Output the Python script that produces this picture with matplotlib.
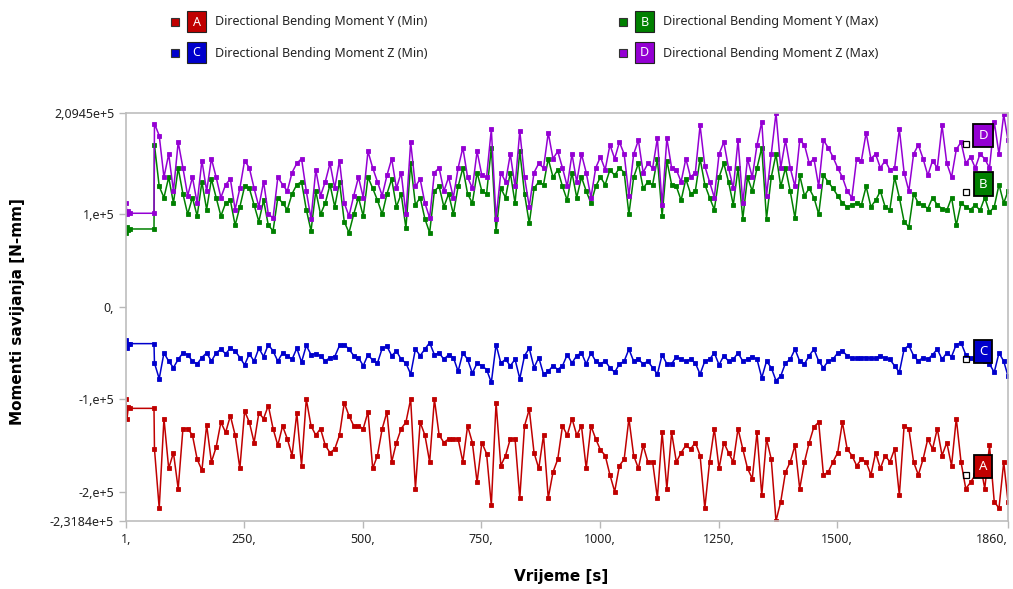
import numpy as np
import matplotlib
matplotlib.use("Agg")
import matplotlib.pyplot as plt
from matplotlib.patches import Rectangle

plt.rcParams["font.family"] = ["Noto Sans", "DejaVu Sans"]

# time axis [s]: flat start-up part, then sampled response every 10 s
t_flat = [1, 3, 6, 10, 60]
t_resp = list(np.arange(61, 1852, 10)) + [1860]
time_s = np.array(t_flat + t_resp, dtype=float)

# values in 1e3 N-mm
flat_A = [-100, -122, -108, -110, -110]
flat_B = [80, 86, 83, 84, 84]
flat_C = [-36, -45, -40, -40, -40]
flat_D = [112, 100, 103, 101, 101]

resp_A = [
    -154, -218, -121, -175, -158, -197, -132, -132, -139, -165,
    -177, -128, -168, -152, -125, -136, -118, -139, -175, -113,
    -125, -147, -115, -121, -107, -132, -150, -129, -143, -161,
    -115, -172, -100, -129, -139, -132, -150, -158, -154, -139,
    -104, -118, -129, -129, -132, -114, -175, -161, -132, -114,
    -168, -147, -132, -125, -100, -197, -125, -139, -168, -100,
    -139, -147, -143, -143, -143, -168, -129, -147, -190, -147,
    -159, -215, -104, -172, -161, -143, -143, -207, -129, -111,
    -158, -175, -139, -207, -179, -165, -129, -139, -121, -139,
    -129, -175, -129, -143, -155, -161, -182, -200, -172, -165,
    -121, -161, -175, -150, -168, -168, -207, -136, -197, -136,
    -168, -158, -150, -154, -147, -161, -218, -168, -132, -175,
    -147, -158, -168, -132, -154, -175, -186, -136, -204, -143,
    -165, -231.8, -211, -179, -168, -150, -197, -168, -147, -130,
    -125, -182, -179, -168, -158, -125, -154, -161, -172, -165,
    -168, -182, -158, -175, -161, -168, -154, -204, -129, -132,
    -168, -182, -165, -143, -154, -132, -161, -147, -172, -121,
    -168, -197, -190, -182, -168, -197, -150, -211, -218, -168, -211,
]
resp_B = [
    175, 130, 118, 140, 112, 150, 122, 100, 118, 98,
    135, 105, 138, 118, 98, 112, 115, 88, 108, 130,
    128, 110, 92, 115, 88, 82, 118, 112, 105, 122,
    132, 135, 105, 82, 125, 100, 112, 132, 108, 135,
    92, 80, 100, 118, 98, 140, 128, 115, 100, 122,
    138, 108, 122, 85, 155, 110, 118, 95, 80, 125,
    130, 108, 122, 100, 130, 150, 122, 112, 145, 125,
    122, 172, 82, 128, 118, 145, 112, 168, 122, 90,
    128, 135, 132, 160, 140, 148, 130, 115, 145, 118,
    140, 125, 112, 130, 140, 132, 148, 142, 150, 145,
    100, 140, 155, 128, 135, 132, 160, 98, 158, 132,
    130, 115, 138, 122, 125, 160, 132, 118, 105, 140,
    155, 135, 110, 150, 95, 140, 125, 150, 172, 95,
    140, 165, 130, 150, 125, 96, 142, 120, 128, 118,
    100, 142, 135, 128, 120, 112, 108, 110, 112, 110,
    130, 108, 115, 125, 108, 105, 140, 118, 92, 86,
    122, 112, 110, 106, 118, 110, 106, 104, 118, 88,
    112, 108, 105, 110, 104, 118, 102, 108, 132, 112, 125,
]
resp_C = [
    -61, -78, -50, -59, -66, -57, -50, -52, -59, -62,
    -55, -50, -59, -50, -46, -51, -45, -48, -55, -63,
    -51, -59, -45, -54, -41, -48, -59, -50, -53, -57,
    -45, -60, -42, -52, -51, -53, -59, -55, -54, -42,
    -41, -46, -53, -55, -64, -52, -58, -61, -45, -43,
    -53, -48, -57, -61, -73, -46, -53, -46, -39, -52,
    -50, -57, -52, -55, -70, -50, -57, -72, -61, -64,
    -68, -82, -41, -61, -57, -64, -57, -78, -53, -45,
    -66, -55, -73, -70, -64, -68, -64, -52, -61, -53,
    -50, -62, -50, -59, -62, -59, -66, -71, -62, -59,
    -46, -59, -57, -62, -59, -66, -73, -52, -62, -62,
    -54, -57, -59, -57, -61, -73, -59, -57, -50, -63,
    -53, -59, -57, -50, -59, -57, -54, -57, -77, -59,
    -66, -80, -75, -61, -57, -46, -59, -62, -53, -46,
    -59, -66, -59, -57, -50, -48, -53, -56, -56, -55,
    -55, -56, -56, -53, -56, -57, -64, -71, -46, -42,
    -53, -59, -55, -57, -52, -46, -57, -50, -54, -41,
    -39, -52, -56, -57, -54, -59, -62, -71, -50, -59, -75,
]
resp_D = [
    198, 185, 140, 165, 125, 178, 150, 120, 140, 112,
    158, 125, 160, 140, 118, 132, 138, 105, 128, 158,
    150, 128, 108, 135, 100, 96, 140, 132, 125, 145,
    155, 160, 125, 95, 148, 120, 135, 155, 128, 158,
    112, 98, 120, 140, 118, 168, 150, 135, 120, 142,
    160, 128, 145, 100, 178, 130, 138, 112, 96, 145,
    150, 125, 140, 118, 150, 172, 140, 128, 168, 142,
    140, 192, 95, 145, 135, 165, 130, 190, 140, 108,
    145, 155, 150, 188, 160, 168, 150, 130, 165, 135,
    165, 145, 118, 150, 162, 148, 175, 160, 178, 165,
    120, 165, 180, 145, 155, 150, 182, 110, 182, 150,
    148, 135, 160, 140, 145, 196, 152, 135, 118, 165,
    178, 150, 128, 180, 112, 160, 140, 175, 200, 120,
    165, 209.45, 150, 180, 150, 130, 180, 175, 155, 160,
    130, 180, 172, 162, 150, 140, 125, 118, 160, 158,
    188, 160, 165, 150, 158, 148, 150, 192, 145, 125,
    165, 175, 160, 142, 158, 150, 196, 155, 140, 170,
    178, 155, 162, 150, 165, 160, 150, 200, 165, 208, 180,
]

letters = ["A", "B", "C", "D"]
names = [
    "Directional Bending Moment Y (Min)",
    "Directional Bending Moment Y (Max)",
    "Directional Bending Moment Z (Min)",
    "Directional Bending Moment Z (Max)",
]
colors = ["#C00000", "#008000", "#0000CC", "#9400D3"]
series = [
    np.array(flat_A + resp_A) * 1000,
    np.array(flat_B + resp_B) * 1000,
    np.array(flat_C + resp_C) * 1000,
    np.array(flat_D + resp_D) * 1000,
]

y_ticks = [-231840, -200000, -100000, 0, 100000, 209450]
y_ticklabels = ["-2,3184e+5", "-2,e+5", "-1,e+5", "0,", "1,e+5", "2,0945e+5"]
x_ticks = [1, 250, 500, 750, 1000, 1250, 1500, 1860]
x_ticklabels = ["1,", "250,", "500,", "750,", "1000,", "1250,", "1500,", "1860,"]

# where the letter tags sit on the right (time, value)
tag_pos = {"A": (1772, -182000), "B": (1772, 124000),
           "C": (1772, -57000), "D": (1772, 176000)}

W, H = 1013, 589
fig = plt.figure(figsize=(W / 100, H / 100), dpi=100)
ax = fig.add_axes([126 / W, 1 - 521 / H, 882 / W, 408 / H])

for y, c in zip(series, colors):
    ax.plot(time_s, y, color=c, lw=1.1, marker="s", ms=3.2,
            mfc=c, mec=c, mew=0.6)

ax.set_xlim(1, 1860)
ax.set_ylim(-231840, 209450)
ax.set_xticks(x_ticks)
ax.set_xticklabels(x_ticklabels)
ax.set_yticks(y_ticks)
ax.set_yticklabels(y_ticklabels)
ax.tick_params(direction="out", length=5, width=1, color="#b8b8b8",
               labelsize=9, labelcolor="#222222")
ax.get_xticklabels()[-1].set_horizontalalignment("right")
for s in ax.spines.values():
    s.set_color("#bdbdbd")
    s.set_linewidth(1.2)

# letter tags on the right
for L, c in zip(letters, colors):
    tx, ty = tag_pos[L]
    ax.plot(tx, ty, marker="s", ms=4, mfc="none", mec="black", mew=0.9,
            zorder=5)
    ax.annotate(L, xy=(tx, ty), xytext=(17, 8), textcoords="offset pixels",
                ha="center", va="center", color="white", fontsize=9.5,
                zorder=6,
                bbox=dict(boxstyle="square,pad=0.38", fc=c, ec="black",
                          lw=1.3))

fig.text(18 / W, 1 - 312 / H, "Momenti savijanja [N-mm]", rotation=90,
         ha="center", va="center", fontsize=11, fontweight="bold",
         family="DejaVu Sans")
fig.text(561 / W, 1 - 577 / H, "Vrijeme [s]", ha="center", va="center",
         fontsize=11, fontweight="bold", family="DejaVu Sans")

# legend at the top (two columns)
def fx(x):
    return x / W

def fy(y):
    return 1 - y / H

legend_slots = [(175, 22), (623, 22), (175, 53), (623, 53)]
for (lx, ly), i in zip(legend_slots, range(4)):
    fig.patches.append(Rectangle((fx(lx - 4), fy(ly + 4)), 8 / W, 8 / H,
                                 transform=fig.transFigure, fc=colors[i],
                                 ec="#333333", lw=0.8))
    fig.patches.append(Rectangle((fx(lx + 12), fy(ly + 10)), 19 / W, 21 / H,
                                 transform=fig.transFigure, fc=colors[i],
                                 ec="#222222", lw=0.8))
    fig.text(fx(lx + 21.5), fy(ly), letters[i], ha="center", va="center",
             color="white", fontsize=9)
    fig.text(fx(lx + 40), fy(ly), names[i], ha="left", va="center",
             fontsize=9, color="#222222")

fig.savefig("out.png", dpi=100)
